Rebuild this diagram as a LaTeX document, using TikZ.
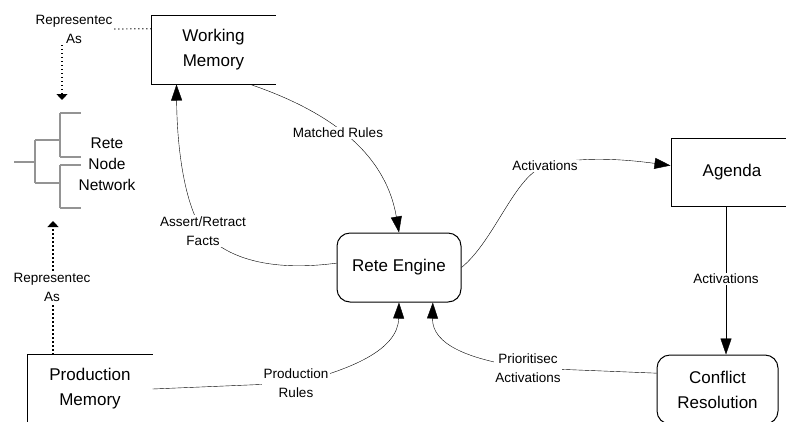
\documentclass[tikz,border=0pt]{standalone}
\usepackage{fontspec}
\setmainfont{Liberation Sans}
\usetikzlibrary{arrows.meta,calc,backgrounds}
\begin{document}
\begin{tikzpicture}[x=1pt,y=-1pt,line width=1pt,
  boxfont/.style={font=\fontsize{17}{25}\selectfont},
  storebox/.style={boxfont,align=center,minimum width=123pt,minimum height=68pt,inner sep=0pt},
  roundbox/.style={boxfont,align=center,draw,rounded corners=13pt,minimum width=124pt,minimum height=69pt,inner sep=0pt},
  lbl/.style={font=\fontsize{13.5}{19}\selectfont,align=center,fill=white,inner sep=1.5pt},
  flow/.style={-{Triangle[length=16pt,width=11pt]}},
  dotline/.style={line width=1.2pt,dash pattern=on 1.2pt off 2.8pt},
  dotarrow/.style={dotline,-{Triangle[length=6pt,width=11pt]}},
  treeline/.style={draw=black!42,line width=1.6pt}
]
\useasboundingbox (0,0) rectangle (786,421);
\clip (0,0) rectangle (786,421);

% main nodes
\node[storebox] (wm) at (213.5,50) {Working\\Memory};
\draw (wm.north east) -- (wm.north west) -- (wm.south west) -- (wm.south east);
\node[storebox,minimum width=124pt] (pm) at (90,389) {Production\\Memory};
\draw (pm.north east) -- (pm.north west) -- (pm.south west) -- (pm.south east);
\node[storebox,draw,minimum width=122pt] (ag) at (732,172) {Agenda};
\node[roundbox] (re) at (399,267.5) {Rete Engine};
\node[roundbox,minimum width=121pt] (cr) at (717.5,389.5) {Conflict\\Resolution};

% rete node network
\node[font=\fontsize{15.5}{21}\selectfont,align=center,inner sep=0pt] (rn) at (107,164) {Rete\\Node\\Network};
\draw[treeline] (14,162) -- (35,162)
  (35,140) -- (35,183)
  (35,140) -- (60,140) (35,183) -- (60,183)
  (60,113) -- (60,157) (60,113) -- (81,113) (60,157) -- (81,157)
  (60,165) -- (60,208) (60,165) -- (81,165) (60,208) -- (81,208);
\coordinate (treetop) at (62,100);
\coordinate (treebot) at (53,221);
\coordinate (vx) at (726,0);

% labels
\node[lbl] (rep1) at (74,29) {Representec\\As};
\node[lbl] (rep2) at (52,287) {Representec\\As};
\node[lbl] (mr) at (338,133) {Matched Rules};
\node[lbl] (arf) at (203,231) {Assert/Retract\\Facts};
\node[lbl] (act1) at (545,166) {Activations};
\node[lbl] (act2) at (726,279) {Activations};
\node[lbl] (pa) at (528,368) {Prioritisec\\Activations};
\node[lbl] (pr) at (296,383) {Production\\Rules};

\begin{scope}[on background layer]
\draw[dotline] (rep1.east) -- (wm.161);
\draw[dotarrow] (rep1.south -| treetop) -- (treetop);
\draw[dotarrow] (pm.north -| treebot) -- (treebot);
\draw[flow] (wm.-43) .. controls (325,110) and (385,150) .. (re.north);
\draw[flow] (re.176) .. controls (270,272) and (225,258) .. (arf.center)
  .. controls (185,205) and (177,150) .. (wm.223);
\draw[flow] (re.east) .. controls (495,240) and (515,175) .. (act1.center)
  .. controls (580,155) and (630,160) .. (ag.174);
\draw[flow] (ag.south -| vx) -- (cr.north -| vx);
\draw[flow] (cr.165) -- (pa.center) .. controls (470,360) and (432,345) .. (re.-46);
\draw[flow] (pm.east) -- (pr.center) .. controls (350,370) and (398,350) .. (re.south);
\end{scope}
\end{tikzpicture}
\end{document}
